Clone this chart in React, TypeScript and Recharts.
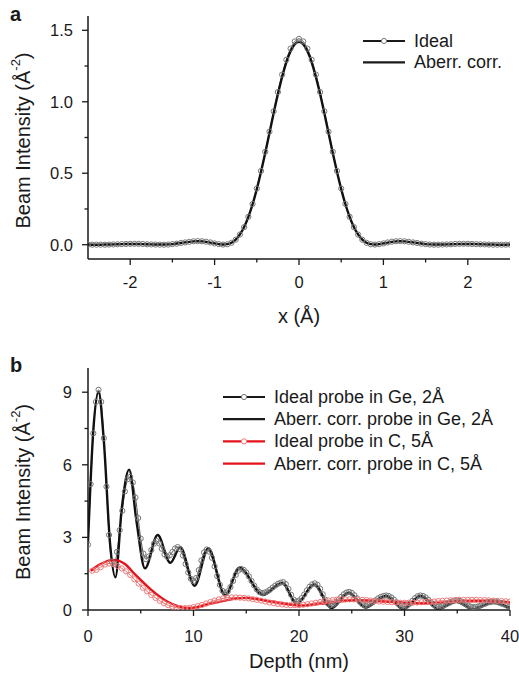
import React from "react";
import { Legend, Line, LineChart, XAxis, YAxis } from "recharts";

const FONT = '"Liberation Sans", Arial, Helvetica, sans-serif';
const INK = "#1a1a1a";

// ---- panel a: probe profile ----
const posA = [
  -2.5, -2.45, -2.4, -2.35, -2.3, -2.25, -2.2, -2.15, -2.1, -2.05,
  -2, -1.95, -1.9, -1.85, -1.8, -1.75, -1.7, -1.65, -1.6, -1.55,
  -1.5, -1.45, -1.4, -1.35, -1.3, -1.25, -1.2, -1.15, -1.1, -1.05,
  -1, -0.95, -0.9, -0.85, -0.8, -0.75, -0.7, -0.65, -0.6, -0.55,
  -0.5, -0.45, -0.4, -0.35, -0.3, -0.25, -0.2, -0.15, -0.1, -0.05,
  0,
  0.05, 0.1, 0.15, 0.2, 0.25, 0.3, 0.35, 0.4, 0.45, 0.5,
  0.55, 0.6, 0.65, 0.7, 0.75, 0.8, 0.85, 0.9, 0.95, 1,
  1.05, 1.1, 1.15, 1.2, 1.25, 1.3, 1.35, 1.4, 1.45, 1.5,
  1.55, 1.6, 1.65, 1.7, 1.75, 1.8, 1.85, 1.9, 1.95, 2,
  2.05, 2.1, 2.15, 2.2, 2.25, 2.3, 2.35, 2.4, 2.45, 2.5,
];
const idealA = [
  0.001, 0, 0, 0, 0, 0.001, 0.002, 0.003, 0.004, 0.005,
  0.006, 0.006, 0.006, 0.005, 0.003, 0.002, 0.001, 0, 0, 0.001,
  0.004, 0.007, 0.012, 0.016, 0.02, 0.024, 0.025, 0.024, 0.021, 0.016,
  0.009, 0.004, 0.001, 0.003, 0.013, 0.035, 0.071, 0.123, 0.195, 0.285,
  0.393, 0.516, 0.65, 0.791, 0.933, 1.068, 1.19, 1.294, 1.372, 1.422,
  1.44,
  1.422, 1.372, 1.294, 1.19, 1.068, 0.933, 0.791, 0.65, 0.516, 0.393,
  0.285, 0.195, 0.123, 0.071, 0.035, 0.013, 0.003, 0.001, 0.004, 0.009,
  0.016, 0.021, 0.024, 0.025, 0.024, 0.02, 0.016, 0.012, 0.007, 0.004,
  0.001, 0, 0, 0.001, 0.002, 0.003, 0.005, 0.006, 0.006, 0.006,
  0.005, 0.004, 0.003, 0.002, 0.001, 0, 0, 0, 0, 0.001,
];
const aberrA = [
  0.001, 0, 0, 0, 0.001, 0.001, 0.002, 0.003, 0.004, 0.005,
  0.005, 0.005, 0.005, 0.004, 0.003, 0.002, 0.001, 0.001, 0.001, 0.002,
  0.004, 0.008, 0.012, 0.016, 0.02, 0.023, 0.024, 0.023, 0.02, 0.015,
  0.009, 0.004, 0.001, 0.004, 0.014, 0.036, 0.072, 0.124, 0.195, 0.283,
  0.389, 0.51, 0.642, 0.781, 0.921, 1.054, 1.174, 1.276, 1.353, 1.402,
  1.42,
  1.402, 1.353, 1.276, 1.174, 1.054, 0.921, 0.781, 0.642, 0.51, 0.389,
  0.283, 0.195, 0.124, 0.072, 0.036, 0.014, 0.004, 0.001, 0.004, 0.009,
  0.015, 0.02, 0.023, 0.024, 0.023, 0.02, 0.016, 0.012, 0.008, 0.004,
  0.002, 0.001, 0.001, 0.001, 0.002, 0.003, 0.004, 0.005, 0.005, 0.005,
  0.005, 0.004, 0.003, 0.002, 0.001, 0.001, 0, 0, 0, 0.001,
];
const xMajorA = [-2, -1, 0, 1, 2];
const xMinorA = [-1.5, -0.5, 0.5, 1.5];
const yMajorA = [0, 0.5, 1, 1.5];
const yMinorA = [0.25, 0.75, 1.25];
const yLabelsA = ["0.0", "0.5", "1.0", "1.5"];

// ---- panel b: intensity vs depth ----
const depthGe = [
  0, 0.25, 0.5, 0.75, 1, 1.25, 1.5, 1.75, 2, 2.25, 2.5, 2.75, 3, 3.25, 3.5, 3.75,
  4, 4.25, 4.5, 4.75, 5, 5.25, 5.5, 5.75, 6, 6.25, 6.5, 6.75, 7, 7.25, 7.5, 7.75,
  8, 8.25, 8.5, 8.75, 9, 9.25, 9.5, 9.75, 10, 10.25, 10.5, 10.75, 11, 11.25, 11.5, 11.75,
  12, 12.25, 12.5, 12.75, 13, 13.25, 13.5, 13.75, 14, 14.25, 14.5, 14.75, 15, 15.25, 15.5, 15.75,
  16, 16.25, 16.5, 16.75, 17, 17.25, 17.5, 17.75, 18, 18.25, 18.5, 18.75, 19, 19.25, 19.5, 19.75,
  20, 20.25, 20.5, 20.75, 21, 21.25, 21.5, 21.75, 22, 22.25, 22.5, 22.75, 23, 23.25, 23.5, 23.75,
  24, 24.25, 24.5, 24.75, 25, 25.25, 25.5, 25.75, 26, 26.25, 26.5, 26.75, 27, 27.25, 27.5, 27.75,
  28, 28.25, 28.5, 28.75, 29, 29.25, 29.5, 29.75, 30, 30.25, 30.5, 30.75, 31, 31.25, 31.5, 31.75,
  32, 32.25, 32.5, 32.75, 33, 33.25, 33.5, 33.75, 34, 34.25, 34.5, 34.75, 35, 35.25, 35.5, 35.75,
  36, 36.25, 36.5, 36.75, 37, 37.25, 37.5, 37.75, 38, 38.25, 38.5, 38.75, 39, 39.25, 39.5, 39.75,
  40,
];
const idealGe = [
  2.7, 5.2, 7.3, 8.6, 9.1, 8.6, 7.1, 5.1, 3.1, 2.0, 1.9, 2.4, 3.3, 4.1, 4.9, 5.4,
  5.5, 5.27, 4.65, 3.8, 2.95, 2.33, 2.1, 2.21, 2.48, 2.74, 2.85, 2.75, 2.53, 2.3, 2.2, 2.26,
  2.4, 2.54, 2.6, 2.51, 2.25, 1.9, 1.55, 1.29, 1.2, 1.32, 1.65, 2.05, 2.38, 2.5, 2.41, 2.16,
  1.8, 1.4, 1.04, 0.79, 0.7, 0.77, 0.95, 1.2, 1.45, 1.63, 1.7, 1.66, 1.55, 1.39, 1.2, 1.01,
  0.85, 0.74, 0.7, 0.72, 0.77, 0.84, 0.93, 1.01, 1.08, 1.13, 1.15, 1.07, 0.87, 0.63, 0.43, 0.35,
  0.39, 0.49, 0.64, 0.81, 0.96, 1.06, 1.1, 1.04, 0.88, 0.65, 0.43, 0.26, 0.2, 0.23, 0.3, 0.41,
  0.54, 0.65, 0.72, 0.75, 0.71, 0.61, 0.48, 0.34, 0.24, 0.2, 0.22, 0.26, 0.32, 0.4, 0.48, 0.54,
  0.58, 0.6, 0.58, 0.52, 0.43, 0.32, 0.23, 0.17, 0.15, 0.18, 0.26, 0.38, 0.49, 0.57, 0.6, 0.58,
  0.52, 0.43, 0.32, 0.23, 0.17, 0.15, 0.16, 0.2, 0.25, 0.3, 0.35, 0.39, 0.4, 0.38, 0.33, 0.26,
  0.19, 0.14, 0.12, 0.13, 0.15, 0.19, 0.24, 0.28, 0.32, 0.34, 0.35, 0.34, 0.3, 0.26, 0.22, 0.17,
  0.15,
];
// aberration-corrected Ge probe, read at its turning points
const aberrGeDepth = [
  0, 0.5, 1, 1.5, 2.1, 2.6, 3.2, 3.9, 4.6, 5.4,
  6.6, 7.8, 8.75, 10.1, 11.4, 13, 14.35, 16.6, 18.4, 19.8,
  21.4, 23.1, 24.7, 26.3, 28.2, 29.9, 31.5, 33.2, 34.9, 36.5,
  38.4, 40,
];
const aberrGe = [
  2.8, 7.4, 9.0, 7.0, 2.7, 1.35, 4.2, 5.8, 3.65, 1.72,
  3.1, 1.95, 2.6, 1.0, 2.55, 0.6, 1.75, 0.62, 1.12, 0.25,
  1.05, 0.08, 0.7, 0.1, 0.58, 0.04, 0.58, 0.04, 0.34, 0.03,
  0.3, 0.07,
];
const depthC = [
  0.4, 0.8, 1.2, 1.6, 2, 2.4, 2.8, 3.2, 3.6, 4,
  4.4, 4.8, 5.2, 5.6, 6, 6.4, 6.8, 7.2, 7.6, 8,
  8.4, 8.8, 9.2, 9.6, 10, 10.4, 10.8, 11.2, 11.6, 12,
  12.4, 12.8, 13.2, 13.6, 14, 14.4, 14.8, 15.2, 15.6, 16,
  16.4, 16.8, 17.2, 17.6, 18, 18.4, 18.8, 19.2, 19.6, 20,
  20.4, 20.8, 21.2, 21.6, 22, 22.4, 22.8, 23.2, 23.6, 24,
  24.4, 24.8, 25.2, 25.6, 26, 26.4, 26.8, 27.2, 27.6, 28,
  28.4, 28.8, 29.2, 29.6, 30, 30.4, 30.8, 31.2, 31.6, 32,
  32.4, 32.8, 33.2, 33.6, 34, 34.4, 34.8, 35.2, 35.6, 36,
  36.4, 36.8, 37.2, 37.6, 38, 38.4, 38.8, 39.2, 39.6, 40,
];
const idealC = [
  1.62, 1.66, 1.77, 1.88, 1.92, 1.9, 1.82, 1.72, 1.6, 1.45,
  1.27, 1.09, 0.92, 0.77, 0.62, 0.5, 0.38, 0.28, 0.2, 0.14,
  0.1, 0.08, 0.08, 0.09, 0.12, 0.16, 0.21, 0.27, 0.33, 0.39,
  0.44, 0.48, 0.51, 0.52, 0.52, 0.51, 0.5, 0.48, 0.45, 0.42,
  0.39, 0.35, 0.31, 0.28, 0.25, 0.23, 0.21, 0.2, 0.2, 0.2,
  0.22, 0.24, 0.27, 0.3, 0.33, 0.36, 0.39, 0.41, 0.43, 0.44,
  0.44, 0.44, 0.44, 0.43, 0.42, 0.41, 0.39, 0.37, 0.35, 0.34,
  0.33, 0.32, 0.31, 0.3, 0.3, 0.3, 0.3, 0.31, 0.32, 0.33,
  0.34, 0.35, 0.37, 0.38, 0.39, 0.4, 0.41, 0.42, 0.42, 0.42,
  0.42, 0.42, 0.41, 0.41, 0.4, 0.39, 0.38, 0.37, 0.36, 0.35,
];
const aberrCDepth = [0.25, 1.2, 2.4, 3.5, 4.5, 6, 7.5, 9.6, 12, 14.9, 17.5, 20.3, 22.3, 25.5, 28.6, 31.8, 35, 38.1, 40];
const aberrC = [1.62, 1.9, 2.07, 1.9, 1.45, 0.83, 0.35, 0.08, 0.3, 0.5, 0.35, 0.18, 0.27, 0.4, 0.34, 0.27, 0.34, 0.38, 0.3];
const xMajorB = [0, 10, 20, 30, 40];
const xMinorB = [5, 15, 25, 35];
const yMajorB = [0, 3, 6, 9];
const yMinorB = [1.5, 4.5, 7.5];

const rowsA = posA.map((x, i) => ({ x, ideal: idealA[i], aberr: aberrA[i] }));
const pairs = (xs: number[], ys: number[]) => xs.map((d, i) => ({ d, v: ys[i] }));

const frame = { stroke: INK, strokeWidth: 1.5 };
const greyDot = { r: 2.6, fill: "none", stroke: "#777", strokeWidth: 1 };
const redDot = { r: 2.6, fill: "none", stroke: "#f07a7a", strokeWidth: 1 };
const RED = "#e3121b";

function xTick(major: number[], labels: string[], dy: number) {
  return (p: any) => {
    const i = major.indexOf(p.payload.value);
    return (
      <g>
        <line x1={p.x} x2={p.x} y1={p.y} y2={p.y + (i >= 0 ? 6 : 3.5)} stroke={INK} strokeWidth={1.3} />
        {i >= 0 && (
          <text x={p.x} y={p.y + dy} textAnchor="middle" fontSize={16.5} fontFamily={FONT} fill={INK}>
            {labels[i]}
          </text>
        )}
      </g>
    );
  };
}

function yTick(major: number[], labels: string[], dx: number) {
  return (p: any) => {
    const i = major.indexOf(p.payload.value);
    return (
      <g>
        <line x1={p.x - (i >= 0 ? 6 : 3.5)} x2={p.x} y1={p.y} y2={p.y} stroke={INK} strokeWidth={1.3} />
        {i >= 0 && (
          <text x={p.x - dx} y={p.y} textAnchor="end" dominantBaseline="central" fontSize={16.5} fontFamily={FONT} fill={INK}>
            {labels[i]}
          </text>
        )}
      </g>
    );
  };
}

function YTitle(props: any) {
  const vb = props.viewBox;
  const cy = vb.y + vb.height / 2 + 3;
  return (
    <text x={23} y={cy} transform={`rotate(-90 23 ${cy})`} textAnchor="middle" dominantBaseline="central" fontSize={20} fontFamily={FONT} fill={INK}>
      Beam Intensity (Å<tspan fontSize={13} dy={-8}>-2</tspan>
      <tspan dy={8}>)</tspan>
    </text>
  );
}

function xTitle(text: string, dy: number) {
  return (props: any) => {
    const vb = props.viewBox;
    return (
      <text x={vb.x + vb.width / 2} y={vb.y + dy} textAnchor="middle" fontSize={20} fontFamily={FONT} fill={INK}>
        {text}
      </text>
    );
  };
}

type Item = { label: string; color: string; dot?: any };

function legendBox(items: Item[], rowGap: number) {
  return () => (
    <svg width={300} height={rowGap * items.length + 10} style={{ overflow: "visible" }}>
      {items.map((it, i) => {
        const y = 13 + i * rowGap;
        return (
          <g key={it.label}>
            <line x1={3} x2={45} y1={y} y2={y} stroke={it.color} strokeWidth={2.2} />
            {it.dot && <circle cx={24} cy={y} r={2.6} fill="#fff" stroke={it.dot.stroke} strokeWidth={1} />}
            <text x={54} y={y} dominantBaseline="central" fontSize={18} fontFamily={FONT} fill={INK}>
              {it.label}
            </text>
          </g>
        );
      })}
    </svg>
  );
}

function PanelA() {
  return (
    <LineChart width={519} height={330} data={rowsA} margin={{ top: 16, right: 9, bottom: 0, left: 0 }}>
      <XAxis dataKey="x" type="number" domain={[-2.5, 2.5]} allowDataOverflow ticks={[...xMajorA, ...xMinorA]} interval={0}
        tickLine={false} tickSize={0} tickMargin={0} axisLine={frame} height={71}
        tick={xTick(xMajorA, xMajorA.map(String), 29)} label={xTitle("x (Å)", 64)} />
      <XAxis xAxisId="top" orientation="top" type="number" domain={[-2.5, 2.5]} tick={false} tickLine={false} axisLine={frame} height={0} />
      <YAxis type="number" domain={[-0.1, 1.6]} allowDataOverflow ticks={[...yMajorA, ...yMinorA]} interval={0}
        tickLine={false} tickSize={0} tickMargin={0} axisLine={frame} width={88}
        tick={yTick(yMajorA, yLabelsA, 15)} label={<YTitle />} />
      <YAxis yAxisId="right" orientation="right" type="number" domain={[0, 1]} tick={false} tickLine={false} axisLine={frame} width={0} />
      <Legend layout="vertical" align="center" verticalAlign="middle"
        wrapperStyle={{ position: "absolute", left: 360, top: 28, width: 160, height: 50 }}
        content={legendBox([
          { label: "Ideal", color: INK, dot: greyDot },
          { label: "Aberr. corr.", color: INK },
        ], 21.3)} />
      <Line dataKey="ideal" type="monotone" stroke="#555" strokeWidth={1} dot={greyDot} activeDot={false} isAnimationActive={false} />
      <Line dataKey="aberr" type="monotone" stroke="#111" strokeWidth={2.4} dot={false} activeDot={false} isAnimationActive={false} />
    </LineChart>
  );
}

function PanelB() {
  return (
    <LineChart width={519} height={339} margin={{ top: 28, right: 9, bottom: 0, left: 0 }}>
      <XAxis dataKey="d" type="number" domain={[0, 40]} allowDataOverflow ticks={[...xMajorB, ...xMinorB]} interval={0}
        tickLine={false} tickSize={0} tickMargin={0} axisLine={frame} height={69}
        tick={xTick(xMajorB, xMajorB.map(String), 32)} label={xTitle("Depth (nm)", 58)} />
      <XAxis xAxisId="top" orientation="top" type="number" domain={[0, 40]} tick={false} tickLine={false} axisLine={frame} height={0} />
      <YAxis type="number" domain={[0, 10]} allowDataOverflow ticks={[...yMajorB, ...yMinorB]} interval={0}
        tickLine={false} tickSize={0} tickMargin={0} axisLine={frame} width={88}
        tick={yTick(yMajorB, yMajorB.map(String), 16)} label={<YTitle />} />
      <YAxis yAxisId="right" orientation="right" type="number" domain={[0, 1]} tick={false} tickLine={false} axisLine={frame} width={0} />
      <Legend layout="vertical" align="center" verticalAlign="middle"
        wrapperStyle={{ position: "absolute", left: 220, top: 44, width: 300, height: 100 }}
        content={legendBox([
          { label: "Ideal probe in Ge, 2Å", color: INK, dot: greyDot },
          { label: "Aberr. corr. probe in Ge, 2Å", color: INK },
          { label: "Ideal probe in C, 5Å", color: RED, dot: redDot },
          { label: "Aberr. corr. probe in C, 5Å", color: RED },
        ], 22.2)} />
      <Line data={pairs(depthGe, idealGe)} dataKey="v" type="monotone" stroke="#555" strokeWidth={1} dot={greyDot} activeDot={false} isAnimationActive={false} />
      <Line data={pairs(aberrGeDepth, aberrGe)} dataKey="v" type="monotone" stroke="#111" strokeWidth={2.4} dot={false} activeDot={false} isAnimationActive={false} />
      <Line data={pairs(depthC, idealC)} dataKey="v" type="monotone" stroke="#ee6b6b" strokeWidth={1} dot={redDot} activeDot={false} isAnimationActive={false} />
      <Line data={pairs(aberrCDepth, aberrC)} dataKey="v" type="monotone" stroke={RED} strokeWidth={2.4} dot={false} activeDot={false} isAnimationActive={false} />
    </LineChart>
  );
}

const panelTag: React.CSSProperties = { position: "absolute", left: 10, fontFamily: FONT, fontWeight: 700, fontSize: 20, lineHeight: "20px", color: INK };

export default function App() {
  return (
    <div style={{ position: "absolute", left: 0, top: 0, width: 519, height: 679, background: "#fff", overflow: "hidden" }}>
      <div style={{ position: "absolute", left: 0, top: 0 }}>
        <PanelA />
      </div>
      <div style={{ position: "absolute", left: 0, top: 340 }}>
        <PanelB />
      </div>
      <div style={{ ...panelTag, top: 4 }}>a</div>
      <div style={{ ...panelTag, top: 355 }}>b</div>
    </div>
  );
}
